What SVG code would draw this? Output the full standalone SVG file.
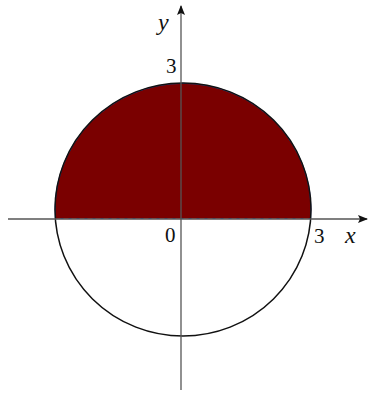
<svg xmlns="http://www.w3.org/2000/svg" width="368" height="393" viewBox="0 0 368 393">
<defs>
<marker id="arr" viewBox="0 0 10 10" refX="9" refY="5" markerWidth="10" markerHeight="10" markerUnits="userSpaceOnUse" orient="auto">
<path d="M0,1 L10,5 L0,9 L2,5 Z" fill="#111"/>
</marker>
<style>
.axis{stroke:#555;stroke-width:1.3;fill:none}
.lbl{font-family:'Liberation Serif','Times New Roman',serif;font-size:21px;fill:#111}
.it{font-style:italic;font-size:24px}
</style>
</defs>
<g id="region">
<path d="M55.3,218.5 A128,126.5 0 1 1 310.7,218.5 Z" fill="#7a0000" stroke="#2a3a8a" stroke-width="1"/>
<line x1="55.5" y1="218.5" x2="310.5" y2="218.5" stroke="#b04040" stroke-width="1.2" stroke-dasharray="5,3"/>
</g>
<g id="circle">
<ellipse cx="183" cy="209.5" rx="128" ry="126.5" fill="none" stroke="#111" stroke-width="1.5"/>
</g>
<g id="connectors">
<line class="axis" x1="8" y1="219" x2="367" y2="219" marker-end="url(#arr)"/>
<line class="axis" x1="181" y1="390" x2="181" y2="6" marker-end="url(#arr)"/>
</g>
<g id="labels" font-family="Liberation Serif, Times New Roman, serif">
<text class="lbl it" x="158" y="30">y</text>
<text class="lbl" x="166" y="73">3</text>
<text class="lbl" x="165" y="242">0</text>
<text class="lbl" x="314" y="243">3</text>
<text class="lbl it" x="345" y="243">x</text>
</g>
</svg>
